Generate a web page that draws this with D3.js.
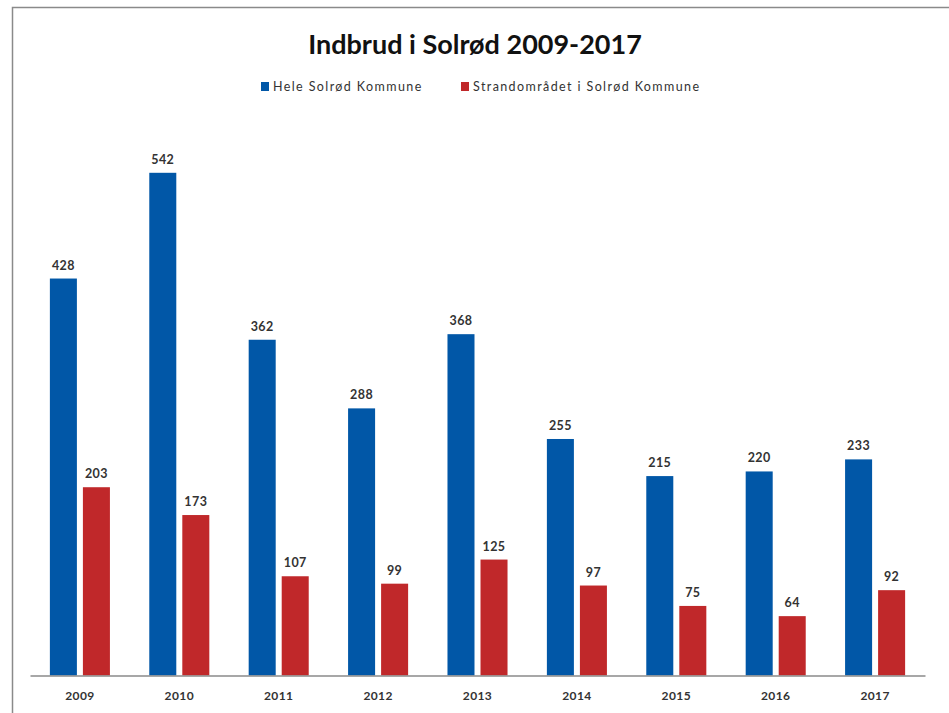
<!DOCTYPE html>
<html>
<head>
<meta charset="utf-8">
<script src="https://cdn.jsdelivr.net/npm/d3@7"></script>
<style>
  body { margin: 0; background: #fff; }
  text { font-family: Lato, "Open Sans", sans-serif; }
</style>
</head>
<body>
<svg id="chart" width="949" height="713"></svg>
<script>
// data
const years = ["2009", "2010", "2011", "2012", "2013", "2014", "2015", "2016", "2017"];
const hele = [428, 542, 362, 288, 368, 255, 215, 220, 233];
const strand = [203, 173, 107, 99, 125, 97, 75, 64, 92];
const seriesNames = ["Hele Solrød Kommune", "Strandområdet i Solrød Kommune"];
const colors = ["#0157a7", "#c0282a"];

const svg = d3.select("#chart");

// frame of the pasted chart
svg.append("path")
	.attr("d", "M12.5,713 L12.5,7.5 L949,7.5")
	.attr("fill", "none")
	.attr("stroke", "#8a8a8a")
	.attr("stroke-width", 1.5);

svg.append("text")
	.attr("x", 475)
	.attr("y", 54)
	.attr("text-anchor", "middle")
	.attr("font-size", 27)
	.attr("font-weight", "bold")
	.attr("fill", "#111")
	.text("Indbrud i Solrød 2009-2017");

// legend
const legendX = [261, 461];
const legend = svg.selectAll("g.legend")
	.data(seriesNames)
	.join("g")
	.classed("legend", true)
	.attr("transform", (d, i) => `translate(${legendX[i]}, 87)`);

legend.append("rect")
	.attr("x", 0)
	.attr("y", -5)
	.attr("width", 8)
	.attr("height", 9)
	.attr("fill", (d, i) => colors[i]);

legend.append("text")
	.attr("x", 12)
	.attr("y", 4)
	.attr("font-size", 12.5)
	.attr("letter-spacing", 1.4)
	.attr("fill", "#333")
	.text((d) => d);

let x0 = d3.scaleBand()
	.domain(years)
	.range([30, 925])
	.paddingInner(0.396)
	.paddingOuter(0.2);

let x1 = d3.scaleBand()
	.domain([0, 1])
	.range([0, x0.bandwidth()])
	.paddingInner(0.182);

let y = d3.scaleLinear()
	.domain([0, 600])
	.range([675.5, 119]);

const rows = years.map((yr, i) => ({ year: yr, values: [hele[i], strand[i]] }));

const groups = svg.selectAll("g.year")
	.data(rows)
	.join("g")
	.classed("year", true)
	.attr("transform", (d) => `translate(${x0(d.year)}, 0)`);

groups.selectAll("rect")
	.data((d) => d.values.map((v, k) => ({ v, k })))
	.join("rect")
	.attr("x", (d) => x1(d.k))
	.attr("y", (d) => y(d.v))
	.attr("width", x1.bandwidth())
	.attr("height", (d) => y(0) - y(d.v))
	.attr("fill", (d) => colors[d.k]);

groups.selectAll("text.val")
	.data((d) => d.values.map((v, k) => ({ v, k })))
	.join("text")
	.classed("val", true)
	.attr("x", (d) => x1(d.k) + x1.bandwidth() / 2)
	.attr("y", (d) => y(d.v) - 9)
	.attr("text-anchor", "middle")
	.attr("font-size", 12.5)
	.attr("font-weight", "bold")
	.attr("letter-spacing", 0.4)
	.attr("fill", "#333")
	.text((d) => d.v);

// x axis
const xAxis = svg.append("g")
	.attr("transform", `translate(0, ${y(0)})`)
	.call(d3.axisBottom(x0).tickSize(0).tickPadding(16));

xAxis.select(".domain")
	.attr("stroke", "#8a8a8a")
	.attr("stroke-width", 1.5);

xAxis.selectAll("text")
	.attr("font-size", 12)
	.attr("font-weight", "bold")
	.attr("letter-spacing", 0.4)
	.attr("fill", "#333")
	.style("font-family", "Lato, sans-serif");
</script>
</body>
</html>
